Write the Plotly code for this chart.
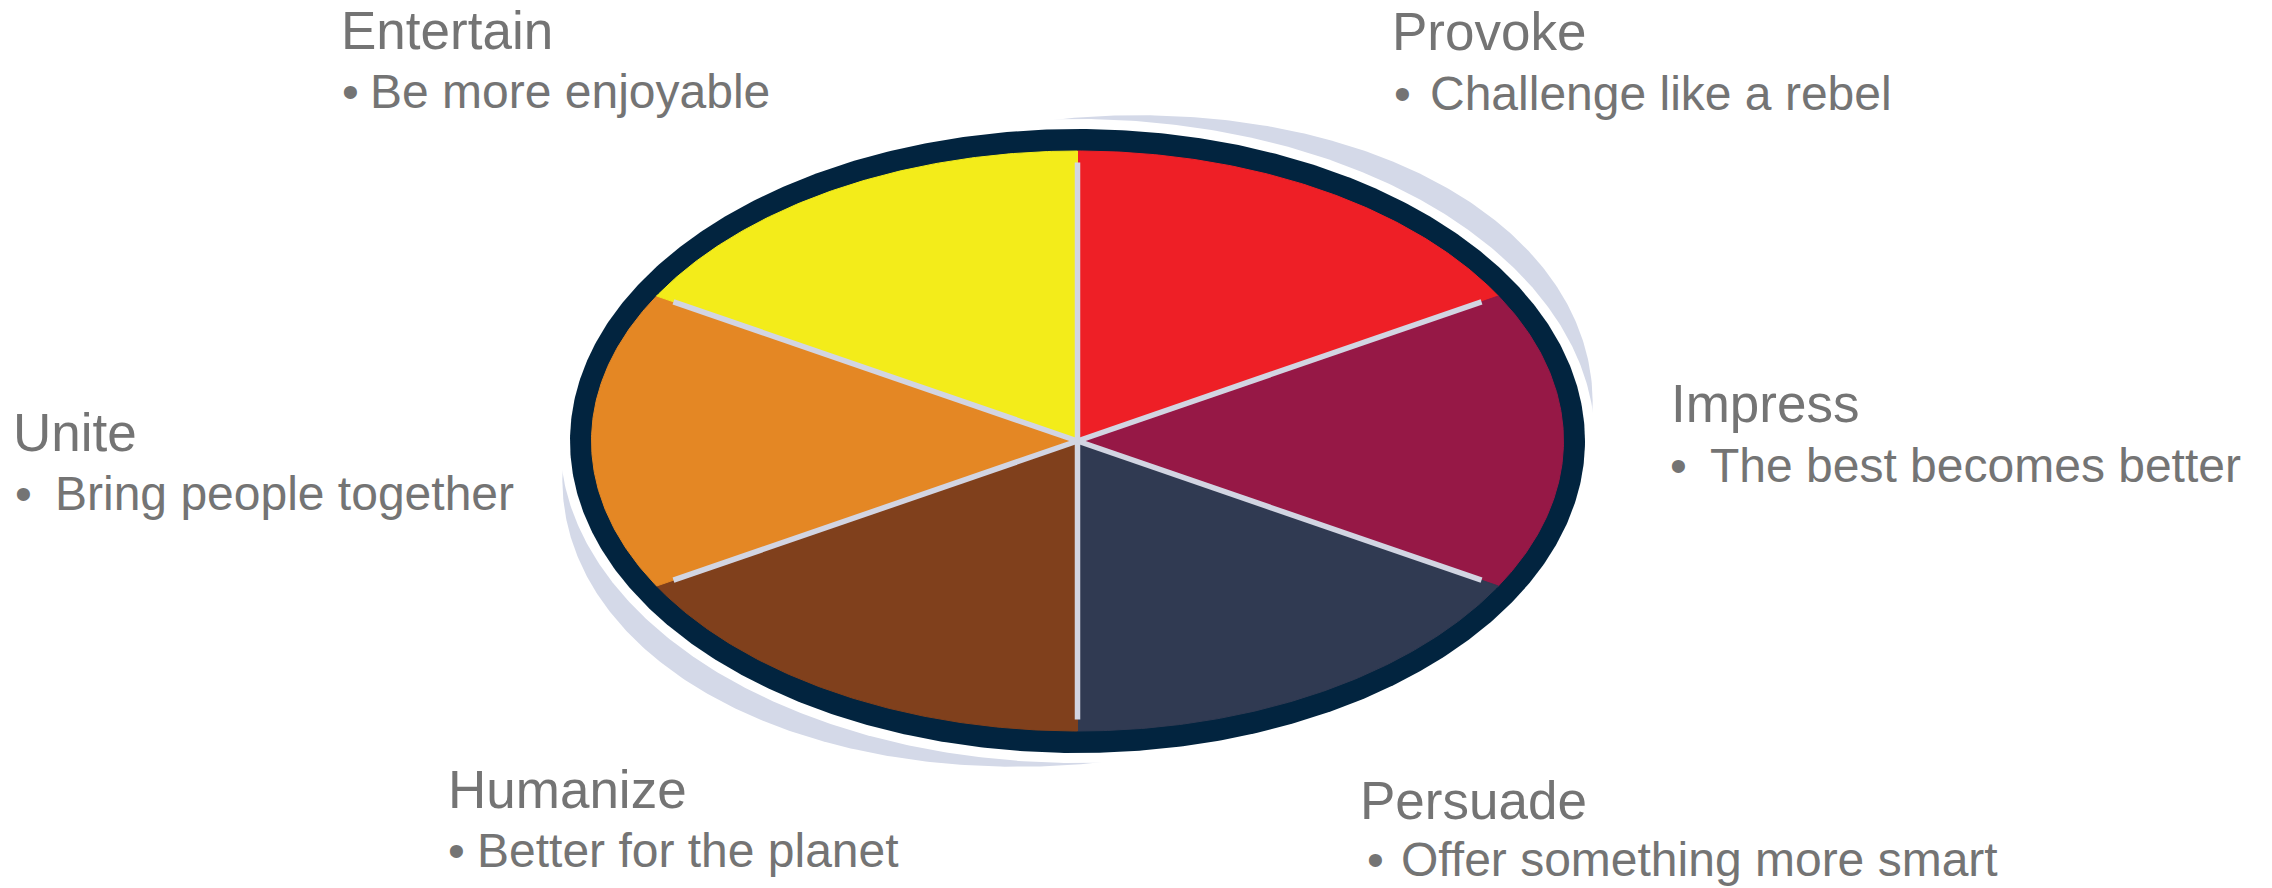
import numpy as np
import plotly.graph_objects as go

# ---------------- data ----------------
categories = ["Provoke", "Impress", "Persuade", "Humanize", "Unite", "Entertain"]
descriptions = ["Challenge like a rebel", "The best becomes better",
                "Offer something more smart", "Better for the planet",
                "Bring people together", "Be more enjoyable"]
values = [1, 1, 1, 1, 1, 1]
colors = ["#EE1F26", "#961846", "#303A52", "#80401C", "#E48724", "#F3EC1A"]

# ---------------- layout constants (pixels) ----------------
W, H = 2272, 888
CX, CY = 1077.5, 441.0
A_IN, B_IN = 486.0, 290.0
A_OUT, B_OUT = 507.5, 312.0
GAP = 10.0
SHADOW_ROT = np.radians(7.0)
SPOKE_FRAC = 0.96
BORDER_COLOR = "#02243F"
SHADOW_COLOR = "#D4D9E8"
SPOKE_COLOR = "#D2D5E2"
TEXT_COLOR = "#747474"
FONT = "Liberation Sans, Arial, sans-serif"
TITLE_SIZE = 53
SUB_SIZE = 48

# label placement: title ink-left, title baseline, bullet ink-left, text ink-left, sub baseline
label_pos = {
    "Entertain": (344, 49, 343, 372, 108),
    "Provoke": (1395, 50, 1395, 1432, 110),
    "Unite": (16, 451, 16, 57, 510),
    "Impress": (1674, 422, 1671, 1712, 482),
    "Humanize": (451, 808, 449, 479, 867),
    "Persuade": (1363, 819, 1368, 1403, 876),
}


def ellipse_xy(a, b, t, rot=0.0):
    X = a * np.cos(t)
    Y = b * np.sin(t)
    Xr = X * np.cos(rot) - Y * np.sin(rot)
    Yr = X * np.sin(rot) + Y * np.cos(rot)
    return CX + Xr, CY - Yr


fig = go.Figure()
t_full = np.linspace(0, 2 * np.pi, 721)

# shadow swoosh (rotated ellipse behind a white halo)
sx, sy = ellipse_xy(A_OUT + GAP, B_OUT + GAP, t_full, SHADOW_ROT)
fig.add_trace(go.Scatter(x=sx, y=sy, fill="toself", mode="lines",
                         line=dict(color=SHADOW_COLOR, width=0),
                         fillcolor=SHADOW_COLOR, hoverinfo="skip"))
wx, wy = ellipse_xy(A_OUT + GAP, B_OUT + GAP, t_full)
fig.add_trace(go.Scatter(x=wx, y=wy, fill="toself", mode="lines",
                         line=dict(color="white", width=0),
                         fillcolor="white", hoverinfo="skip"))
# dark border
bx, by = ellipse_xy(A_OUT, B_OUT, t_full)
fig.add_trace(go.Scatter(x=bx, y=by, fill="toself", mode="lines",
                         line=dict(color=BORDER_COLOR, width=0),
                         fillcolor=BORDER_COLOR, hoverinfo="skip"))

# slices (clockwise from 12 o'clock)
total = float(sum(values))
cum = 0.0
boundaries = []
for cat, v, col in zip(categories, values, colors):
    start = np.pi / 2 - 2 * np.pi * cum / total
    end = np.pi / 2 - 2 * np.pi * (cum + v) / total
    t = np.linspace(start, end, 120)
    ex, ey = ellipse_xy(A_IN, B_IN, t)
    px = np.concatenate([[CX], ex, [CX]])
    py = np.concatenate([[CY], ey, [CY]])
    fig.add_trace(go.Scatter(x=px, y=py, fill="toself", mode="lines",
                             line=dict(color=col, width=1), fillcolor=col,
                             name=cat, hoverinfo="name"))
    boundaries.append(start)
    cum += v

# spokes
spx, spy = [], []
for ang in boundaries:
    ex, ey = ellipse_xy(A_IN * SPOKE_FRAC, B_IN * SPOKE_FRAC, np.array([ang]))
    spx += [CX, float(ex[0]), None]
    spy += [CY, float(ey[0]), None]
fig.add_trace(go.Scatter(x=spx, y=spy, mode="lines",
                         line=dict(color=SPOKE_COLOR, width=5.5), hoverinfo="skip"))

# labels
annotations = []
for cat, desc in zip(categories, descriptions):
    tx, tb, bxl, txl, sb = label_pos[cat]
    annotations.append(dict(
        x=tx - 0.08 * TITLE_SIZE - 1, y=tb - 0.3465 * TITLE_SIZE,
        xref="x", yref="y", xanchor="left", yanchor="middle",
        text=cat, showarrow=False,
        font=dict(family=FONT, size=TITLE_SIZE, color=TEXT_COLOR)))
    annotations.append(dict(
        x=bxl - 0.05 * SUB_SIZE - 1, y=sb - 0.3465 * SUB_SIZE,
        xref="x", yref="y", xanchor="left", yanchor="middle",
        text="\u2022", showarrow=False,
        font=dict(family=FONT, size=SUB_SIZE, color=TEXT_COLOR)))
    annotations.append(dict(
        x=txl - 0.07 * SUB_SIZE - 1, y=sb - 0.3465 * SUB_SIZE,
        xref="x", yref="y", xanchor="left", yanchor="middle",
        text=desc, showarrow=False,
        font=dict(family=FONT, size=SUB_SIZE, color=TEXT_COLOR)))

fig.update_layout(
    width=W, height=H,
    margin=dict(l=0, r=0, t=0, b=0),
    paper_bgcolor="white", plot_bgcolor="white",
    showlegend=False,
    xaxis=dict(range=[0, W], visible=False, fixedrange=True),
    yaxis=dict(range=[H, 0], visible=False, fixedrange=True),
    annotations=annotations,
)

fig.write_html("out.html")
